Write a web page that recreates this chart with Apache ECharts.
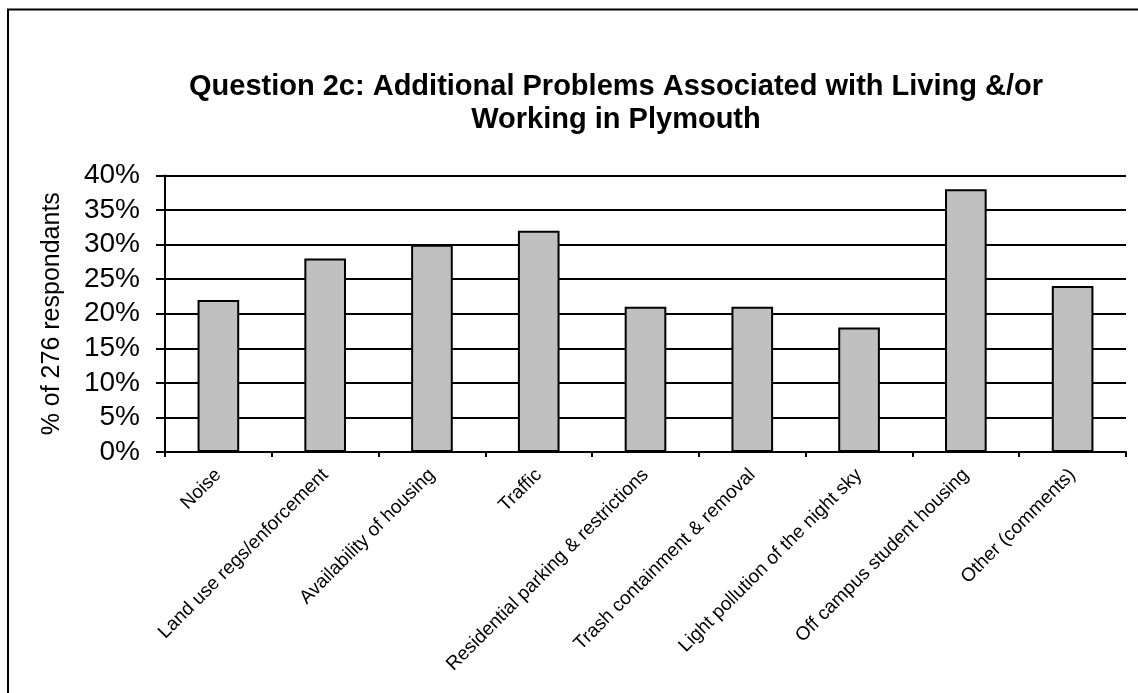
<!DOCTYPE html>
<html>
<head>
<meta charset="utf-8">
<script src="https://cdn.jsdelivr.net/npm/echarts@6/dist/echarts.min.js"></script>
<style>
  html, body { margin: 0; padding: 0; background: #fff; }
  #chart { width: 1138px; height: 693px; }
</style>
</head>
<body>
<div id="chart"></div>
<script>
// Survey question 2c: share of respondents naming each problem
const categories = [
  'Noise',
  'Land use regs/enforcement',
  'Availability of housing',
  'Traffic',
  'Residential parking & restrictions',
  'Trash containment & removal',
  'Light pollution of the night sky',
  'Off campus student housing',
  'Other (comments)'
];
const percentValues = [22, 28, 30, 32, 21, 21, 18, 38, 24];
const yTicks = [0, 5, 10, 15, 20, 25, 30, 35, 40];

const FONT = '"Liberation Sans", Arial, sans-serif';

const chart = echarts.init(document.getElementById('chart'), null, { renderer: 'canvas' });

chart.setOption({
  backgroundColor: '#ffffff',
  animation: false,
  title: {
    text: 'Question 2c: Additional Problems Associated with Living &/or\nWorking in Plymouth',
    left: 611,
    textAlign: 'center',
    top: 65,
    textStyle: {
      fontFamily: FONT,
      fontWeight: 'bold',
      fontSize: 29,
      color: '#000',
      lineHeight: 33
    }
  },
  graphic: [
    {
      // outer chart frame (continues past the right and bottom edges)
      type: 'rect',
      shape: { x: 8, y: 9.5, width: 1200, height: 800 },
      style: { fill: 'none', stroke: '#000', lineWidth: 2 },
      silent: true
    }
  ],
  grid: {
    left: 165,
    right: 12,
    top: 175.5,
    bottom: 241,
    containLabel: false
  },
  xAxis: {
    type: 'category',
    data: categories,
    axisLine: { show: true, lineStyle: { color: '#000', width: 2 } },
    axisTick: {
      show: true,
      alignWithLabel: false,
      length: 5,
      lineStyle: { color: '#000', width: 2 }
    },
    axisLabel: {
      interval: 0,
      rotate: 45,
      margin: 20,
      fontFamily: FONT,
      fontSize: 19,
      color: '#000'
    }
  },
  yAxis: {
    type: 'value',
    min: yTicks[0],
    max: yTicks[yTicks.length - 1],
    interval: 5,
    name: '% of 276 respondants',
    nameLocation: 'middle',
    nameGap: 100,
    nameRotate: 90,
    nameTextStyle: {
      fontFamily: FONT,
      fontSize: 25,
      color: '#000'
    },
    axisLine: { show: true, lineStyle: { color: '#000', width: 2 } },
    axisTick: {
      show: true,
      inside: false,
      length: 9,
      lineStyle: { color: '#000', width: 2 }
    },
    axisLabel: {
      formatter: '{value}%',
      margin: 25,
      fontFamily: FONT,
      fontSize: 28,
      color: '#000'
    },
    splitLine: { show: true, lineStyle: { color: '#000', width: 2 } }
  },
  series: [
    {
      type: 'bar',
      data: percentValues,
      barWidth: '39%',
      itemStyle: {
        color: '#c0c0c0',
        borderColor: '#000',
        borderWidth: 2
      }
    }
  ]
});
</script>
</body>
</html>
